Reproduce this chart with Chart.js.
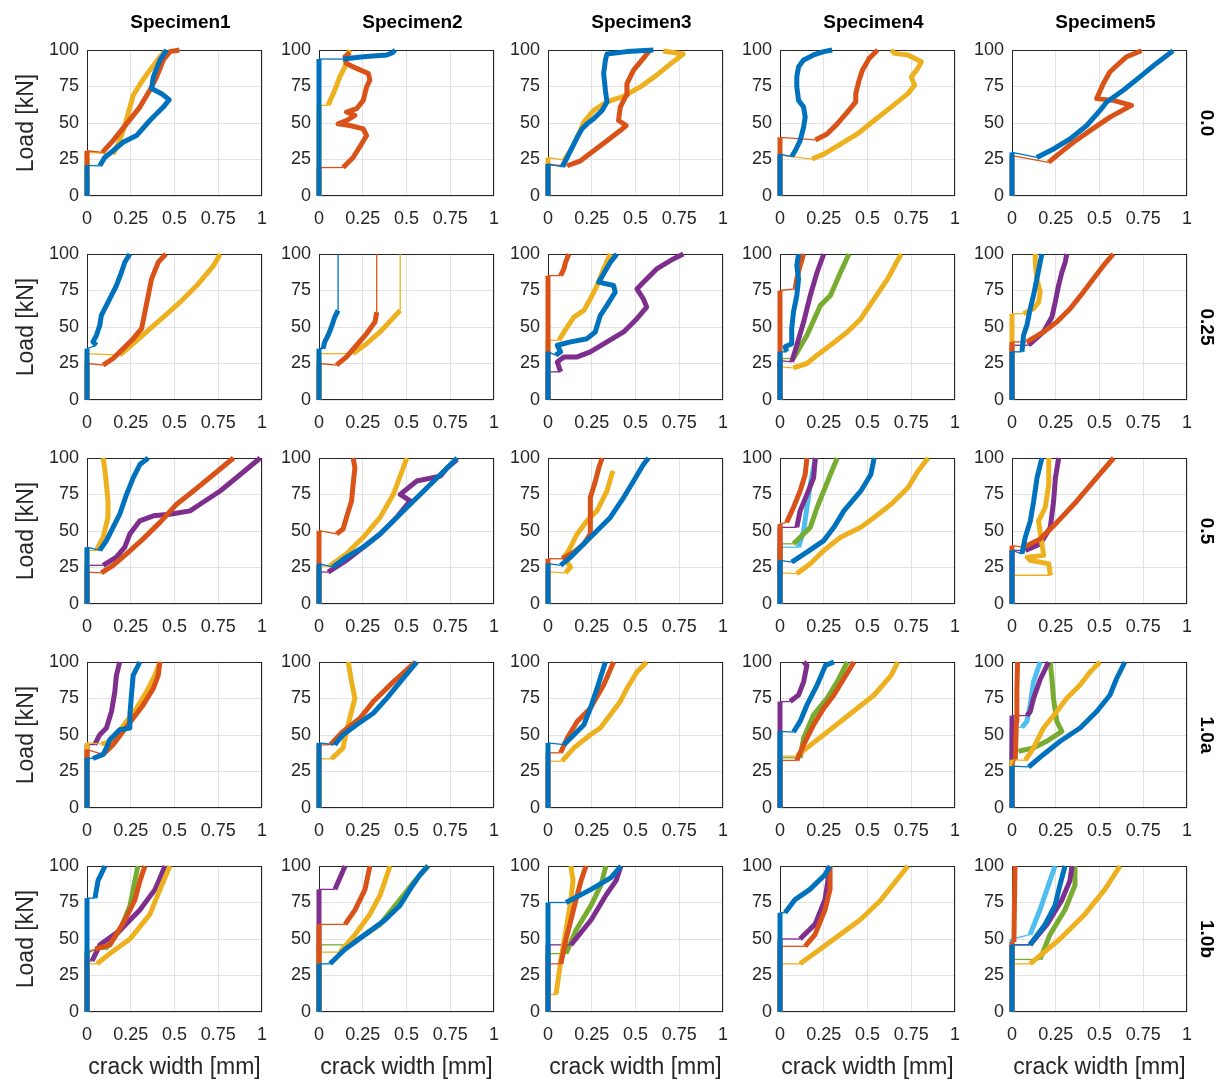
<!DOCTYPE html>
<html>
<head>
<meta charset="utf-8">
<script src="https://cdn.jsdelivr.net/npm/chart.js@4.4.1/dist/chart.umd.min.js"></script>
<style>
  body { margin: 0; width: 1222px; height: 1080px; position: relative; overflow: hidden; background: #fff;
         font-family: "Liberation Sans", Arial, sans-serif; }
  canvas { position: absolute; }
  .lbl { position: absolute; white-space: nowrap; color: #000; }
</style>
</head>
<body>
<script>
// ---- data ----
const specimens = ['Specimen1', 'Specimen2', 'Specimen3', 'Specimen4', 'Specimen5'];
const ratios = ['0.0', '0.25', '0.5', '1.0a', '1.0b'];
const xTicks = [0, 0.25, 0.5, 0.75, 1];
const yTicks = [0, 25, 50, 75, 100];

// each series: crack number, load at which crack opened (kN), then [width mm, load kN] points
const spec1_00 = [
  { crack: 1, init: 21, pts: [[.073,20.7],[.101,26.4],[.149,31],[.206,36.8],[.283,41.4],[.359,51.7],[.436,60.9],[.47,66],[.426,70.1],[.369,73.6],[.379,81.6],[.417,93.1],[.455,100]] },
  { crack: 2, init: 31, pts: [[.088,29.9],[.149,37.9],[.226,49.4],[.302,60.9],[.359,72.4],[.398,81.6],[.436,93.1],[.474,98.9],[.528,100]] },
  { crack: 3, init: 30, pts: [[.149,28.7],[.178,35.6],[.207,44.8],[.235,56.3],[.264,69],[.312,78.2],[.359,86.2],[.417,95.4],[.446,98.9]] }
];
const spec2_00 = [
  { crack: 1, init: 93.8, pts: [[.138,93.8],[.253,95.4],[.387,96.6],[.421,98.2],[.435,100]] },
  { crack: 2, init: 19.5, pts: [[.138,19.5],[.195,26.4],[.243,35.6],[.272,41.4],[.253,46],[.176,48.3],[.109,49.4],[.157,51.7],[.205,55.2],[.157,57.5],[.215,59.8],[.253,65.5],[.272,74.7],[.291,79.3],[.282,83.9],[.215,87.4],[.157,90.8],[.148,95.4],[.176,98.2]] },
  { crack: 3, init: 62.1, pts: [[.052,62.1],[.09,72.4],[.119,81.6],[.148,88.5],[.157,94.3],[.176,100]] }
];
const spec3_00 = [
  { crack: 1, init: 22, pts: [[.081,20],[.11,26.4],[.138,33.3],[.167,40.2],[.195,46],[.223,49.4],[.261,52.9],[.309,58.6],[.337,64.4],[.328,72.4],[.318,83.9],[.328,93.1],[.337,97.2],[.451,98.9],[.602,100]] },
  { crack: 2, init: 21.4, pts: [[.11,20.7],[.186,24.1],[.261,31],[.337,37.9],[.413,44.8],[.447,48.3],[.403,51.7],[.413,60.9],[.447,69],[.451,77],[.489,86.2],[.545,94.3],[.583,100]] },
  { crack: 3, init: 26.4, pts: [[.091,24.6],[.129,31],[.167,40.2],[.205,50.6],[.261,58.6],[.337,64.4],[.432,68.3],[.527,74.7],[.621,82.8],[.716,92],[.773,97.2],[.659,99.3]] }
];
const spec4_00 = [
  { crack: 1, init: 28.7, pts: [[.067,27],[.087,31],[.115,37.9],[.135,47.1],[.144,54],[.135,60.9],[.106,65.5],[.096,74.7],[.096,81.6],[.106,88.5],[.135,93.1],[.192,96.6],[.25,98.9],[.298,100]] },
  { crack: 2, init: 40.2, pts: [[.202,38.4],[.269,42.5],[.327,49.4],[.385,57.5],[.433,64.4],[.433,70.1],[.452,79.3],[.471,86.2],[.51,94.3],[.558,100]] },
  { crack: 3, init: 28, pts: [[.183,25.3],[.25,28.7],[.346,35.6],[.442,42.5],[.538,51.7],[.635,60.9],[.731,70.1],[.769,75.9],[.75,81.6],[.788,87.4],[.808,92],[.731,96.6],[.654,97.7],[.635,100]] }
];
const spec5_00 = [
  { crack: 1, init: 29.9, pts: [[.142,26.4],[.237,32.2],[.332,39.1],[.427,48.3],[.503,58.6],[.541,64.4],[.636,72.4],[.731,81.6],[.825,90.8],[.92,99.5]] },
  { crack: 2, init: 27.6, pts: [[.209,23],[.266,28.7],[.351,36.8],[.446,44.8],[.56,54],[.683,62.1],[.579,65.5],[.484,66.7],[.522,77],[.56,85.1],[.655,95.4],[.74,99.5]] }
];

const spec1_025 = [
  { crack: 1, init: 35.2, pts: [[.054,37.5],[.034,39.8],[.054,44.3],[.073,51.1],[.082,58],[.111,64.8],[.14,71.6],[.168,78.4],[.197,87.5],[.216,94.3],[.245,100]] },
  { crack: 2, init: 25, pts: [[.092,23.9],[.149,28.4],[.207,35.2],[.264,42],[.312,48.9],[.331,60.2],[.35,71.6],[.369,83],[.407,94.3],[.451,100]] },
  { crack: 3, init: 31.8, pts: [[.187,30.7],[.264,38.6],[.34,46.6],[.436,56.8],[.532,67],[.627,78.4],[.723,92],[.761,100]] }
];
const spec2_025 = [
  { crack: 1, init: 35.2, pts: [[.023,35.2],[.033,39.8],[.052,44.3],[.071,50],[.09,56.8],[.109,61.4]], top: 100 },
  { crack: 2, init: 25, pts: [[.1,23.9],[.157,29.5],[.215,37.5],[.272,45.5],[.32,53.4],[.33,60.2]], top: 100 },
  { crack: 3, init: 31.8, pts: [[.195,31.8],[.272,38.6],[.349,46.6],[.464,61.4]], top: 100 }
];
const spec3_025 = [
  { crack: 1, init: 33, pts: [[.044,30.7],[.072,33],[.053,37.5],[.129,39.8],[.223,42],[.27,46.6],[.299,58],[.337,64.8],[.384,73.9],[.375,78.4],[.29,80.7],[.318,86.4],[.356,94.3],[.394,100]] },
  { crack: 2, init: 85.2, pts: [[.072,85.2],[.091,89.8],[.1,94.3],[.119,100]] },
  { crack: 3, init: 40.9, pts: [[.063,40.9],[.091,46.6],[.148,56.8],[.205,61.4],[.242,69.3],[.28,78.4],[.318,89.8],[.356,100]] },
  { crack: 4, init: 19.3, pts: [[.072,19.3],[.053,26.1],[.091,29.5],[.167,29.5],[.242,33],[.337,39.8],[.432,46.6],[.508,55.7],[.564,63.6],[.545,69.3],[.508,76.1],[.545,80.7],[.583,85.2],[.621,89.8],[.716,96.6],[.773,100]] }
];
const spec4_025 = [
  { crack: 1, init: 33, pts: [[.038,33],[.029,36.4],[.067,38.6],[.067,48.9],[.077,60.2],[.096,71.6],[.106,83],[.096,92],[.106,100]] },
  { crack: 2, init: 75, pts: [[.087,76.1],[.096,83],[.115,92],[.135,100]] },
  { crack: 3, init: 22.7, pts: [[.077,22],[.154,25],[.212,30.7],[.288,37.5],[.385,46.6],[.462,55.7],[.538,69.3],[.615,83],[.692,100]] },
  { crack: 4, init: 27, pts: [[.067,26.1],[.096,37.5],[.135,53.4],[.173,71.6],[.212,87.5],[.25,100]] },
  { crack: 5, init: 28.4, pts: [[.077,28.4],[.154,44.3],[.231,64.8],[.288,71.6],[.346,87.5],[.394,100]] }
];
const spec5_025 = [
  { crack: 1, init: 33, pts: [[.057,33],[.066,44.3],[.085,51.1],[.104,62.5],[.123,71.6],[.142,83],[.161,94.3],[.171,100]] },
  { crack: 2, init: 39.8, pts: [[.085,39.8],[.18,46.6],[.256,53.4],[.332,62.5],[.408,73.9],[.465,83],[.522,92],[.579,100]] },
  { crack: 3, init: 59.1, pts: [[.066,59.1],[.123,62.5],[.152,67],[.161,73.9],[.142,83],[.133,94.3],[.133,100]] },
  { crack: 4, init: 37.5, pts: [[.095,37.5],[.18,46.6],[.228,56.8],[.247,67],[.266,78.4],[.285,87.5],[.304,94.3],[.313,100]] }
];

const spec1_05 = [
  { crack: 1, init: 38.9, pts: [[.073,36.7],[.111,43.4],[.149,52.5],[.187,61.5],[.226,75.1],[.264,86.4],[.302,95.5],[.35,100]] },
  { crack: 2, init: 21.9, pts: [[.082,21.3],[.149,26.5],[.226,34.4],[.321,44.6],[.417,55.9],[.512,68.3],[.608,77.4],[.723,88.7],[.837,100]] },
  { crack: 3, init: 36.7, pts: [[.054,36.7],[.092,45.7],[.12,59.3],[.12,70.6],[.111,81.9],[.101,93.2],[.092,100]] },
  { crack: 4, init: 26.5, pts: [[.092,26.5],[.168,32.1],[.216,38.9],[.245,48],[.302,57],[.379,60.4],[.474,61.5],[.589,63.8],[.646,68.3],[.761,77.4],[.876,88.7],[.99,100]] }
];
const spec2_05 = [
  { crack: 1, init: 27.6, pts: [[.08,25.3],[.157,32.1],[.253,38.9],[.349,48],[.444,59.3],[.54,70.6],[.636,81.9],[.732,93.2],[.789,100]] },
  { crack: 2, init: 50.2, pts: [[.1,48],[.138,51.4],[.157,59.3],[.186,70.6],[.195,81.9],[.205,93.2],[.195,100]] },
  { crack: 3, init: 26, pts: [[.061,26],[.157,34.4],[.253,45.7],[.349,59.3],[.425,75.1],[.502,100]] },
  { crack: 4, init: 22, pts: [[.052,21.9],[.157,29.9],[.253,38.9],[.349,48],[.444,59.3],[.521,70.6],[.464,75.1],[.559,84.2],[.693,87.6],[.732,93.2],[.789,98.9]] }
];
const spec3_05 = [
  { crack: 1, init: 27.6, pts: [[.072,26.5],[.129,32.1],[.205,41.2],[.28,50.2],[.356,59.3],[.432,72.9],[.489,84.2],[.545,95.5],[.574,100]] },
  { crack: 2, init: 31, pts: [[.081,31],[.148,35.5],[.205,41.2],[.242,48],[.242,59.3],[.242,72.9],[.271,84.2],[.29,93.2],[.309,100]] },
  { crack: 3, init: 22, pts: [[.1,21.3],[.129,25.3],[.091,32.1],[.119,36.7],[.167,48],[.223,57],[.28,63.8],[.337,77.4],[.367,89.8],[.379,89]] }
];
const spec4_05 = [
  { crack: 1, init: 29.9, pts: [[.067,28.7],[.154,35.5],[.25,43.4],[.308,52.5],[.365,63.8],[.462,77.4],[.519,88.7],[.538,100]] },
  { crack: 2, init: 54.8, pts: [[.038,55.9],[.077,66.1],[.115,77.4],[.144,88.7],[.154,100]] },
  { crack: 3, init: 21.3, pts: [[.096,20.8],[.173,27.6],[.25,36.7],[.346,45.7],[.462,52.5],[.538,59.3],[.635,68.3],[.731,79.6],[.788,90.9],[.846,100]] },
  { crack: 4, init: 52.5, pts: [[.096,52.5],[.115,63.8],[.154,75.1],[.192,86.4],[.202,100]] },
  { crack: 5, init: 41.2, pts: [[.077,41.2],[.135,48],[.173,52.5],[.212,66.1],[.25,77.4],[.288,88.7],[.327,100]] },
  { crack: 6, init: 38.9, pts: [[.106,38.9],[.135,50.2],[.154,66.1],[.173,81.9],[.202,100]] }
];
const spec5_05 = [
  { crack: 1, init: 36.7, pts: [[.057,34.4],[.076,45.7],[.105,57],[.124,70.6],[.143,86.4],[.171,100]] },
  { crack: 2, init: 40, pts: [[.067,38.9],[.162,44.6],[.257,55.9],[.371,70.6],[.467,84.2],[.581,100]] },
  { crack: 3, init: 19.7, pts: [[.219,19.7],[.21,27.6],[.105,29.9],[.086,32.1],[.181,33.3],[.171,41.2],[.162,48],[.152,57],[.19,66.1],[.21,81.9],[.21,100]] },
  { crack: 4, init: 36.7, pts: [[.076,36.7],[.162,41.2],[.219,52.5],[.238,70.6],[.248,86.4],[.267,100]] }
];

const spec1_10a = [
  { crack: 1, init: 34.4, pts: [[.034,33.9],[.092,36.7],[.111,41.2],[.13,46.8],[.187,53.6],[.245,54.8],[.245,63.8],[.254,77.4],[.264,90.9],[.302,100]] },
  { crack: 2, init: 40, pts: [[.092,36.7],[.149,43.4],[.207,52.5],[.264,61.5],[.321,70.6],[.379,81.9],[.407,90.9],[.417,100]] },
  { crack: 3, init: 44.6, pts: [[.082,43.9],[.13,45.2],[.168,50.2],[.226,59.3],[.283,68.3],[.34,79.6],[.388,90.9],[.417,100]] },
  { crack: 4, init: 43.4, pts: [[.044,43.4],[.073,50.2],[.111,54.8],[.14,66.1],[.159,79.6],[.168,90.9],[.187,100]] }
];
const spec2_10a = [
  { crack: 1, init: 44.6, pts: [[.09,43.4],[.138,50.2],[.215,57],[.31,64.9],[.387,75.1],[.464,86.4],[.559,100]] },
  { crack: 2, init: 43, pts: [[.065,43.4],[.138,52.5],[.234,61.5],[.31,72.9],[.425,86.4],[.55,100]] },
  { crack: 3, init: 33.7, pts: [[.071,33.7],[.138,41.2],[.157,52.5],[.186,66.1],[.205,75.1],[.186,86.4],[.167,100]] }
];
const spec3_10a = [
  { crack: 1, init: 44.6, pts: [[.091,43.4],[.148,50.2],[.205,57],[.242,68.3],[.28,81.9],[.328,100]] },
  { crack: 2, init: 37.8, pts: [[.072,37.8],[.11,48],[.167,59.3],[.242,68.3],[.318,84.2],[.375,100]] },
  { crack: 3, init: 32, pts: [[.081,32.1],[.148,41.2],[.242,50.2],[.299,54.8],[.356,63.8],[.413,72.9],[.451,81.9],[.508,93.2],[.564,100]] }
];
const spec4_10a = [
  { crack: 1, init: 52.5, pts: [[.077,52],[.115,59.3],[.154,70.6],[.212,84.2],[.26,97.7],[.308,100]] },
  { crack: 2, init: 32.6, pts: [[.096,32.6],[.135,43.4],[.192,57],[.25,68.3],[.308,77.4],[.365,88.7],[.423,100]] },
  { crack: 3, init: 35.5, pts: [[.096,35.5],[.154,41.2],[.25,50.2],[.346,59.3],[.442,68.3],[.538,77.4],[.635,90.9],[.673,100]] },
  { crack: 4, init: 72.9, pts: [[.058,72.9],[.106,77.4],[.135,86.4],[.154,97.7],[.135,100]] },
  { crack: 5, init: 34.4, pts: [[.115,34.4],[.135,48],[.192,63.8],[.269,75.1],[.327,86.4],[.385,100]] }
];
const spec5_10a = [
  { crack: 1, init: 28.7, pts: [[.095,28.1],[.18,36.7],[.275,45.7],[.389,54.8],[.484,66.1],[.56,77.4],[.598,88.7],[.645,100]] },
  { crack: 2, init: 28, pts: [[.019,33.3],[.025,59.3],[.028,81.9],[.032,100]] },
  { crack: 3, init: 33, pts: [[.076,32.6],[.123,41.2],[.18,54.8],[.256,66.1],[.313,75.1],[.389,84.2],[.446,93.2],[.503,100]] },
  { crack: 4, init: 63.3, pts: [[.085,63.3],[.104,66],[.123,75.1],[.161,88],[.209,100]] },
  { crack: 5, init: 38.9, pts: [[.038,38.9],[.123,41.2],[.199,45.7],[.285,52.5],[.256,59.3],[.237,75.1],[.228,88.7],[.218,100]] },
  { crack: 6, init: 55.2, pts: [[.057,55.2],[.085,59.3],[.104,70.6],[.123,86.4],[.161,100]] }
];

const spec1_10b = [
  { crack: 1, init: 78, pts: [[.046,78],[.063,90],[.103,100]] },
  { crack: 2, init: 40, pts: [[.046,43],[.131,46],[.217,63],[.274,77],[.303,90],[.331,100]] },
  { crack: 3, init: 33, pts: [[.057,33],[.131,40],[.246,50],[.36,67],[.417,84],[.474,100]] },
  { crack: 4, init: 35, pts: [[.029,35],[.074,46],[.189,56],[.303,70],[.389,84],[.446,100]] },
  { crack: 5, init: 42, pts: [[.103,43],[.189,56],[.246,73],[.274,90],[.291,100]] }
];
const spec2_10b = [
  { crack: 1, init: 33, pts: [[.063,33],[.149,43],[.263,53],[.377,63],[.463,73],[.52,84],[.577,94],[.623,100]] },
  { crack: 2, init: 60, pts: [[.149,60],[.206,70],[.263,84],[.291,100]] },
  { crack: 3, init: 41, pts: [[.12,41],[.206,53],[.291,67],[.349,80],[.406,100]] },
  { crack: 4, init: 84, pts: [[.091,84],[.12,92],[.149,100]] },
  { crack: 5, init: 46, pts: [[.177,46],[.349,60],[.463,77],[.549,90],[.623,100]] }
];
const spec3_10b = [
  { crack: 1, init: 75, pts: [[.103,75],[.246,84],[.36,92],[.417,100]] },
  { crack: 2, init: 33, pts: [[.074,33],[.103,50],[.131,63],[.16,77],[.189,90],[.217,100]] },
  { crack: 3, init: 12, pts: [[.046,12],[.074,36],[.103,56],[.131,77],[.143,90],[.131,100]] },
  { crack: 4, init: 46, pts: [[.131,46],[.246,63],[.331,80],[.389,90],[.417,100]] },
  { crack: 5, init: 40, pts: [[.103,40],[.16,56],[.246,73],[.303,87],[.331,100]] }
];
const spec4_10b = [
  { crack: 1, init: 68, pts: [[.029,68],[.086,77],[.171,84],[.257,94],[.286,100]] },
  { crack: 2, init: 45, pts: [[.143,45],[.2,53],[.257,70],[.286,84],[.286,100]] },
  { crack: 3, init: 33, pts: [[.114,33],[.229,43],[.343,53],[.457,63],[.571,76],[.731,100]] },
  { crack: 4, init: 50, pts: [[.114,50],[.2,60],[.257,77],[.274,90],[.274,100]] }
];
const spec5_10b = [
  { crack: 1, init: 46, pts: [[.103,46],[.189,60],[.246,73],[.274,87],[.303,100]] },
  { crack: 2, init: 48, pts: [[.011,48],[.017,100]] },
  { crack: 3, init: 33, pts: [[.103,33],[.274,50],[.417,67],[.531,84],[.617,100]] },
  { crack: 4, init: 46, pts: [[.103,46],[.2,60],[.286,77],[.331,90],[.343,100]] },
  { crack: 5, init: 36, pts: [[.16,36],[.217,53],[.303,70],[.36,87],[.36,100]] },
  { crack: 6, init: 50, pts: [[.103,53],[.16,70],[.217,90],[.246,100]] }
];

const panels = [
  [spec1_00, spec2_00, spec3_00, spec4_00, spec5_00],
  [spec1_025, spec2_025, spec3_025, spec4_025, spec5_025],
  [spec1_05, spec2_05, spec3_05, spec4_05, spec5_05],
  [spec1_10a, spec2_10a, spec3_10a, spec4_10a, spec5_10a],
  [spec1_10b, spec2_10b, spec3_10b, spec4_10b, spec5_10b]
];

// ---- layout / style ----
const crackColors = ['#0072BD', '#D95319', '#EDB120', '#7E2F8E', '#77AC30', '#4DBEEE'];
const colLeft = [87, 319, 548, 780, 1012];
const rowTop = [50, 254, 458, 662, 866];
const plotW = 175, plotH = 146;
const padL = 8, yAxW = 52, padT = 24, padR = 24, xAxH = 40, padB = 3;
const THICK = 5, THIN = 1.3;

Chart.defaults.font.family = '"Liberation Sans", Arial, sans-serif';
Chart.defaults.color = '#262626';

const boxPlugin = {
  id: 'box',
  beforeDatasetsDraw(chart) {
    const { ctx, chartArea: a } = chart;
    ctx.save();
    ctx.strokeStyle = '#262626';
    ctx.lineWidth = 1;
    ctx.strokeRect(a.left + 0.5, a.top + 0.5, a.width - 1, a.height - 1);
    ctx.restore();
  }
};

function addLabel(text, x, y, css, rot) {
  const d = document.createElement('div');
  d.className = 'lbl';
  d.textContent = text;
  d.style.cssText += css;
  d.style.left = x + 'px';
  d.style.top = y + 'px';
  d.style.transform = 'translate(-50%, -50%)' + (rot ? ' rotate(' + rot + 'deg)' : '');
  document.body.appendChild(d);
}

function buildDatasets(series) {
  return series.slice().sort((a, b) => a.crack - b.crack).map(s => {
    const data = [{ x: 0, y: 0 }, { x: 0, y: s.init }];
    s.pts.forEach(p => data.push({ x: p[0], y: p[1] }));
    const thin = new Set([1]);
    if (s.top !== undefined) {
      const last = s.pts[s.pts.length - 1];
      thin.add(data.length - 1);
      data.push({ x: last[0], y: s.top });
    }
    return {
      data: data,
      showLine: true,
      borderColor: crackColors[s.crack - 1],
      borderWidth: THICK,
      borderCapStyle: 'butt',
      borderJoinStyle: 'round',
      pointRadius: 0,
      clip: { left: 4, top: 4, right: 4, bottom: 0 },
      segment: { borderWidth: c => thin.has(c.p0DataIndex) ? THIN : THICK }
    };
  });
}

function makeChart(r, c) {
  const cv = document.createElement('canvas');
  const W = padL + yAxW + plotW + padR, H = padT + plotH + xAxH + padB;
  cv.width = W; cv.height = H;
  cv.style.left = (colLeft[c] - padL - yAxW) + 'px';
  cv.style.top = (rowTop[r] - padT) + 'px';
  document.body.appendChild(cv);

  const tickFont = { size: 18 };
  const chart = new Chart(cv, {
    type: 'scatter',
    data: { datasets: buildDatasets(panels[r][c]) },
    options: {
      responsive: false,
      maintainAspectRatio: false,
      animation: false,
      layout: { padding: { left: padL, top: padT, right: padR, bottom: padB } },
      plugins: { legend: { display: false }, tooltip: { enabled: false } },
      elements: { line: { tension: 0 } },
      scales: {
        x: {
          type: 'linear', min: 0, max: 1,
          afterBuildTicks: s => { s.ticks = xTicks.map(v => ({ value: v })); },
          afterFit: s => { s.height = xAxH; },
          grid: { color: '#e2e2e2', drawTicks: false },
          border: { display: false },
          ticks: { padding: 12, font: tickFont, maxRotation: 0, autoSkip: false, callback: v => String(v) }
        },
        y: {
          type: 'linear', min: 0, max: 100,
          afterBuildTicks: s => { s.ticks = yTicks.map(v => ({ value: v })); },
          afterFit: s => { s.width = yAxW; },
          grid: { color: '#e2e2e2', drawTicks: false },
          border: { display: false },
          ticks: { padding: 8, font: tickFont, autoSkip: false, callback: v => String(v) }
        }
      }
    },
    plugins: [boxPlugin]
  });

  let a = chart.chartArea;
  if (Math.abs(a.width - plotW) > 0.5 || Math.abs(a.height - plotH) > 0.5) {
    chart.resize(W + (plotW - a.width), H + (plotH - a.height));
    a = chart.chartArea;
  }
  cv.style.left = (colLeft[c] - a.left) + 'px';
  cv.style.top = (rowTop[r] - a.top) + 'px';
}

for (let r = 0; r < 5; r++) {
  for (let c = 0; c < 5; c++) makeChart(r, c);
}

specimens.forEach((t, c) => addLabel(t, colLeft[c] + plotW / 2 + 6, 22, 'font-size:19px;font-weight:bold;'));
ratios.forEach((t, r) => addLabel(t, 1207, rowTop[r] + plotH / 2, 'font-size:19px;font-weight:bold;', 90));
rowTop.forEach(t => addLabel('Load [kN]', 25, t + plotH / 2, 'font-size:23px;color:#262626;', -90));
colLeft.forEach(l => addLabel('crack width [mm]', l + plotW / 2, 1066, 'font-size:23px;color:#262626;'));
</script>
</body>
</html>
